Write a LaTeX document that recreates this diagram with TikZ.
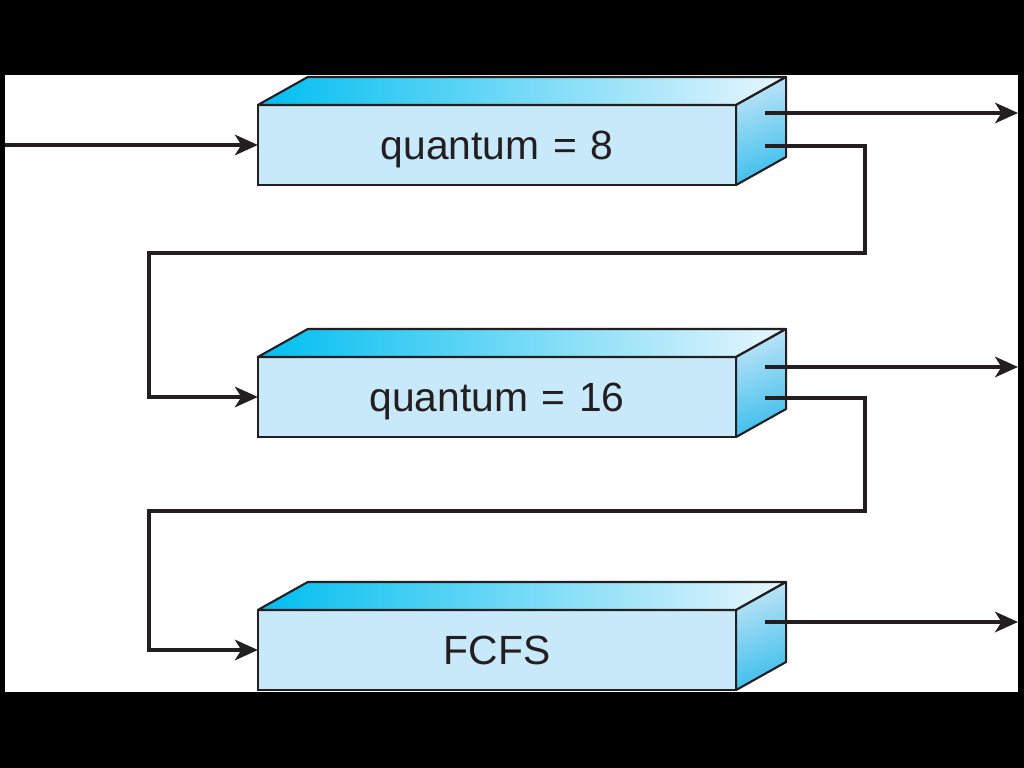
\documentclass[tikz,border=0pt]{standalone}
\usepackage{fontspec}
\setmainfont{Liberation Sans}
\usetikzlibrary{arrows.meta,calc}
\definecolor{frontc}{RGB}{200,233,249}
\definecolor{cyanc}{RGB}{0,190,240}
\definecolor{palec}{RGB}{232,246,253}
\definecolor{sidetop}{RGB}{190,228,247}
\definecolor{sidebot}{RGB}{60,190,236}
\definecolor{inkc}{RGB}{35,31,32}
\tikzset{
  qbox/.style={draw=inkc, line width=0.6pt, fill=frontc, minimum width=4.78cm,
    minimum height=0.8cm, inner sep=0pt, outer sep=0pt,
    text height=8.5pt, text depth=0pt,
    font=\fontsize{11.6}{14}\selectfont, text=inkc},
  face/.style={draw=inkc, line width=0.6pt, line join=round},
  conn/.style={draw=inkc, line width=1.15pt},
  arr/.style={conn, -{Stealth[length=6.5pt,width=5.8pt,inset=1.8pt]}}
}
\newcommand{\qeq}{\hspace{0.33em}=\hspace{0.33em}}
\newcommand{\qfaces}[1]{%
  \shade[left color=cyanc, right color=palec] (#1.north west) -- ++(50,-28) -- ++(478,0) -- (#1.north east) -- cycle;
  \draw[face] (#1.north west) -- ++(50,-28) -- ++(478,0) -- (#1.north east) -- cycle;
  \shade[top color=sidetop, bottom color=sidebot, shading angle=20] (#1.north east) -- ++(50,-28) -- ++(0,80) -- (#1.south east) -- cycle;
  \draw[face] (#1.north east) -- ++(50,-28) -- ++(0,80) -- (#1.south east) -- cycle;
}
\begin{document}
\begin{tikzpicture}[x=0.01cm,y=-0.01cm]
\useasboundingbox (0,0) rectangle (1024,768);
\fill[black] (0,0) rectangle (1024,768);
\fill[white] (5,75) rectangle (1018,692);

\node[qbox] (b1) at (497,145) {quantum\qeq 8};
\node[qbox] (b2) at (497,397) {quantum\qeq 16};
\node[qbox] (b3) at (497,650) {FCFS};
\qfaces{b1}
\qfaces{b2}
\qfaces{b3}

\coordinate (in1) at (5,145);
\coordinate (o1a) at (765,113);
\coordinate (e1) at (1018,113);
\coordinate (o1b) at (765,146);
\coordinate (o2a) at (765,367);
\coordinate (e2) at (1018,367);
\coordinate (o2b) at (765,398);
\coordinate (o3a) at (765,622);
\coordinate (e3) at (1018,622);

\draw[arr] (in1) -- (b1.west);
\draw[arr] (o1a) -- (e1);
\draw[arr] (o1b) -| (865,253) -| (149,397) -- (b2.west);
\draw[arr] (o2a) -- (e2);
\draw[arr] (o2b) -| (865,511) -| (149,650) -- (b3.west);
\draw[arr] (o3a) -- (e3);
\end{tikzpicture}
\end{document}
